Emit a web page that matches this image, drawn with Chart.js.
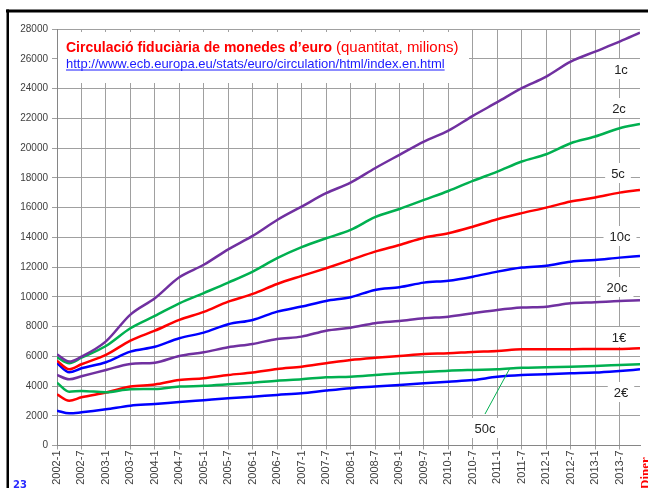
<!DOCTYPE html>
<html>
<head>
<meta charset="utf-8">
<script src="https://cdn.jsdelivr.net/npm/chart.js@4.4.0/dist/chart.umd.min.js"></script>
<style>
  body { margin: 0; background: #fff; }
  canvas { display: block; }
</style>
</head>
<body>
<canvas id="chart" width="648" height="488"></canvas>
<script>
// sample months (year-month)
const months = ['2002-1', '2002-4', '2002-7', '2003-1', '2003-7', '2004-1', '2004-7', '2005-1', '2005-7',
  '2006-1', '2006-7', '2007-1', '2007-7', '2008-1', '2008-7', '2009-1', '2009-7', '2010-1', '2010-7',
  '2011-1', '2011-7', '2012-1', '2012-7', '2013-1', '2013-7', '2013-12'];

const tickLabels = ['2002-1', '2002-7', '2003-1', '2003-7', '2004-1', '2004-7', '2005-1', '2005-7',
  '2006-1', '2006-7', '2007-1', '2007-7', '2008-1', '2008-7', '2009-1', '2009-7', '2010-1', '2010-7',
  '2011-1', '2011-7', '2012-1', '2012-7', '2013-1', '2013-7'];

// quantitat, milions de monedes
const c1 = [6130, 5640, 5970, 7000, 8800, 9900, 11310, 12150, 13190, 14090, 15160, 16060, 16960,
  17670, 18640, 19540, 20430, 21170, 22160, 23080, 24020, 24800, 25810, 26480, 27150, 27750];
const c2 = [5930, 5530, 5900, 6690, 7880, 8710, 9560, 10250, 10950, 11690, 12590, 13330, 13930,
  14490, 15350, 15900, 16510, 17110, 17790, 18410, 19090, 19580, 20320, 20770, 21330, 21620];
const c5 = [5700, 5120, 5460, 6090, 7050, 7720, 8440, 8980, 9670, 10190, 10860, 11400, 11920,
  12470, 13030, 13480, 13970, 14270, 14710, 15210, 15620, 15990, 16400, 16670, 17000, 17180];
const c10 = [5530, 4920, 5190, 5600, 6310, 6640, 7210, 7590, 8150, 8440, 9000, 9340, 9720,
  9970, 10460, 10640, 10950, 11080, 11350, 11690, 11960, 12090, 12360, 12470, 12630, 12740];
const c20 = [4740, 4450, 4650, 5080, 5480, 5570, 6020, 6270, 6600, 6830, 7160, 7320, 7720,
  7920, 8220, 8370, 8550, 8660, 8890, 9110, 9270, 9330, 9560, 9630, 9720, 9760];
const c50 = [4220, 3620, 3670, 3580, 3780, 3800, 3960, 4010, 4110, 4220, 4360, 4450, 4590,
  4630, 4740, 4860, 4940, 5030, 5080, 5120, 5230, 5260, 5300, 5350, 5410, 5460];
const e1 = [3440, 3010, 3240, 3560, 3960, 4100, 4400, 4520, 4740, 4900, 5140, 5300, 5530,
  5750, 5900, 6020, 6150, 6200, 6290, 6350, 6470, 6470, 6470, 6490, 6490, 6540];
const e2 = [2340, 2160, 2230, 2430, 2680, 2790, 2930, 3050, 3170, 3280, 3400, 3510, 3690,
  3850, 3960, 4070, 4180, 4290, 4400, 4620, 4740, 4790, 4850, 4900, 5010, 5120];

const seriesNames = ['1c', '2c', '5c', '10c', '20c', '50c', '1€', '2€'];
const seriesValues = [c1, c2, c5, c10, c20, c50, e1, e2];
const seriesColors = ['#7030A0', '#00B050', '#FF0000', '#0000FF', '#7030A0', '#00B050', '#FF0000', '#0000FF'];

const monthIndex = s => {
  const [y, m] = s.split('-').map(Number);
  return (y - 2002) * 12 + m - 1;
};

const datasets = seriesNames.map((name, i) => ({
  label: name,
  data: seriesValues[i].map((v, j) => ({ x: monthIndex(months[j]), y: v })),
  borderColor: seriesColors[i],
  borderWidth: 2.5,
  pointRadius: 0,
  fill: false,
  cubicInterpolationMode: 'monotone'
}));

// text, boxes and frame laid over the plot
const overlay = {
  id: 'overlay',
  beforeDatasetsDraw(chart) {
    const ctx = chart.ctx;
    ctx.save();
    // title box
    ctx.fillStyle = '#fff';
    ctx.fillRect(58, 32, 411, 51);
    ctx.textBaseline = 'alphabetic';
    ctx.textAlign = 'left';
    ctx.fillStyle = '#ff0000';
    ctx.font = 'bold 15px "Liberation Sans"';
    ctx.fillText('Circulació fiduciària de monedes d’euro', 66, 52, 266);
    ctx.font = '15px "Liberation Sans"';
    ctx.fillText('(quantitat, milions)', 336, 52, 124);
    ctx.fillStyle = '#1a1aff';
    ctx.font = '13px "Liberation Sans"';
    const url = 'http://www.ecb.europa.eu/stats/euro/circulation/html/index.en.html';
    const uw = Math.min(ctx.measureText(url).width, 384);
    ctx.fillText(url, 66, 68, 384);
    ctx.fillRect(66, 69.5, uw, 1);

    // series labels
    const labels = [['1c', 621, 69], ['2c', 619, 108], ['5c', 618, 173], ['10c', 620, 236],
      ['20c', 617, 287], ['1€', 619, 337], ['2€', 621, 392], ['50c', 485, 428]];
    ctx.font = '13px "Liberation Sans"';
    ctx.textAlign = 'center';
    ctx.textBaseline = 'middle';
    labels.forEach(([t, x, y]) => {
      const w = ctx.measureText(t).width;
      ctx.fillStyle = '#fff';
      ctx.fillRect(x - w / 2 - 6, y - 10, w + 12, 20);
      ctx.fillStyle = '#222';
      ctx.fillText(t, x, y + 1);
    });
    ctx.restore();
  },
  afterDraw(chart) {
    const ctx = chart.ctx;
    const xs = chart.scales.x, ys = chart.scales.y;
    ctx.save();
    // leader for 50c
    ctx.strokeStyle = '#00B050';
    ctx.lineWidth = 1;
    ctx.beginPath();
    ctx.moveTo(485, 414);
    ctx.lineTo(xs.getPixelForValue(111), ys.getPixelForValue(5150));
    ctx.stroke();

    // slide frame
    ctx.fillStyle = '#000';
    ctx.fillRect(6, 9.5, 642, 3);
    ctx.fillRect(6.5, 9.5, 2.5, 479);

    ctx.fillStyle = '#2a2aff';
    ctx.font = 'bold 10px "DejaVu Sans"';
    ctx.textAlign = 'left';
    ctx.textBaseline = 'alphabetic';
    ctx.fillText('23', 13, 488);

    ctx.translate(649, 489);
    ctx.rotate(-Math.PI / 2);
    ctx.fillStyle = '#ff0000';
    ctx.font = 'bold 13px "Liberation Serif"';
    ctx.fillText('Diner', 0, 0);
    ctx.restore();
  }
};

new Chart(document.getElementById('chart'), {
  type: 'line',
  data: { datasets },
  plugins: [overlay],
  options: {
    responsive: false,
    animation: false,
    layout: { padding: { top: 29, right: 8, left: 0, bottom: 0 } },
    plugins: { legend: { display: false }, tooltip: { enabled: false } },
    scales: {
      x: {
        type: 'linear',
        min: 0,
        max: 143,
        afterBuildTicks: s => { s.ticks = tickLabels.map(t => ({ value: monthIndex(t) })); },
        afterFit: s => { s.height = 42.5; },
        ticks: {
          callback: (v, i) => tickLabels[i],
          minRotation: 90,
          maxRotation: 90,
          autoSkip: false,
          padding: 1,
          color: '#404040',
          font: { family: 'Liberation Sans', size: 11 }
        },
        grid: { color: '#a0a0a0', lineWidth: 1, tickLength: 4 },
        border: { color: '#868686' }
      },
      y: {
        min: 0,
        max: 28000,
        afterFit: s => { s.width = 57; },
        ticks: {
          stepSize: 2000,
          padding: 4,
          callback: v => String(v),
          color: '#404040',
          font: { family: 'Liberation Sans', size: 10 }
        },
        grid: { color: '#a0a0a0', lineWidth: 1, tickLength: 5 },
        border: { color: '#868686' }
      }
    }
  }
});
</script>
</body>
</html>
